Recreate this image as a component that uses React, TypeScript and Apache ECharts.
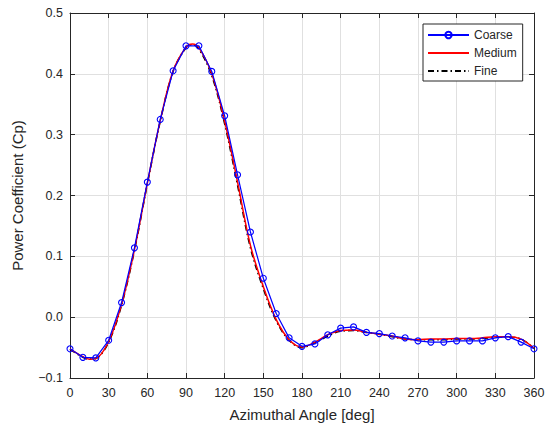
import React, { useEffect, useRef } from "react";
import * as echarts from "echarts";

const coarseAngles = [0, 10, 20, 30, 40, 50, 60, 70, 80, 90, 100, 110, 120, 130, 140, 150, 160, 170, 180, 190, 200, 210, 220, 230, 240, 250, 260, 270, 280, 290, 300, 310, 320, 330, 340, 350, 360];
const coarseCp = [-0.052, -0.066, -0.067, -0.038, 0.024, 0.114, 0.222, 0.325, 0.405, 0.446, 0.446, 0.404, 0.331, 0.234, 0.14, 0.064, 0.006, -0.034, -0.048, -0.044, -0.029, -0.018, -0.016, -0.025, -0.027, -0.031, -0.034, -0.039, -0.041, -0.041, -0.039, -0.039, -0.039, -0.034, -0.032, -0.041, -0.052];

const mediumAngles = [0, 10, 15, 20, 30, 40, 50, 60, 70, 80, 90, 95, 100, 110, 120, 130, 140, 150, 160, 170, 180, 190, 200, 210, 220, 230, 240, 250, 260, 270, 280, 290, 300, 310, 320, 330, 340, 350, 360];
const mediumCp = [-0.052, -0.065, -0.069, -0.068, -0.040, 0.021, 0.111, 0.220, 0.323, 0.405, 0.444, 0.449, 0.443, 0.400, 0.322, 0.222, 0.118, 0.050, -0.004, -0.037, -0.049, -0.041, -0.029, -0.022, -0.021, -0.025, -0.028, -0.031, -0.036, -0.037, -0.036, -0.036, -0.035, -0.035, -0.034, -0.032, -0.032, -0.036, -0.051];

const fineAngles = [0, 10, 15, 20, 30, 40, 50, 60, 70, 80, 90, 95, 100, 110, 120, 130, 140, 150, 160, 170, 180, 190, 200, 210, 220, 230, 240, 250, 260, 270, 280, 290, 300, 310, 320, 330, 340, 350, 360];
const fineCp = [-0.053, -0.066, -0.069, -0.068, -0.041, 0.020, 0.110, 0.219, 0.322, 0.404, 0.443, 0.448, 0.441, 0.397, 0.318, 0.217, 0.114, 0.047, -0.006, -0.038, -0.050, -0.042, -0.031, -0.023, -0.022, -0.025, -0.028, -0.032, -0.036, -0.037, -0.037, -0.037, -0.036, -0.036, -0.035, -0.033, -0.033, -0.036, -0.051];

const seriesNames = ["Coarse", "Medium", "Fine"];
const xTicks = { min: 0, max: 360, interval: 30 };
const yTicks = { min: -0.1, max: 0.5, interval: 0.1 };

const FONT = "'Liberation Sans', Arial, sans-serif";
const AX = "#262626";

export default function App() {
  const ref = useRef<HTMLDivElement>(null);
  useEffect(() => {
    if (!ref.current) return;
    const chart = echarts.init(ref.current, null, { renderer: "svg" });
    const pairs = (xs: number[], ys: number[]) => xs.map((x, i) => [x, ys[i]]);
    const secondaryAxis = {
      type: "value" as const,
      axisLine: { show: true, onZero: false, lineStyle: { color: AX, width: 1 } },
      axisTick: { show: true, inside: true, length: 5, lineStyle: { color: AX } },
      axisLabel: { show: false },
      splitLine: { show: false },
    };
    chart.setOption({
      animation: false,
      backgroundColor: "#ffffff",
      textStyle: { fontFamily: FONT },
      grid: { left: 70, right: 16, top: 13, bottom: 54, containLabel: false },
      legend: {
        data: [
          { name: seriesNames[0] },
          { name: seriesNames[1], itemStyle: { opacity: 0 } },
          { name: seriesNames[2], itemStyle: { opacity: 0 } },
        ],
        orient: "vertical",
        left: 423,
        top: 24,
        padding: [4, 6, 3, 4],
        itemGap: 4,
        itemWidth: 41,
        itemHeight: 8,
        borderColor: AX,
        borderWidth: 1,
        borderRadius: 0,
        backgroundColor: "#ffffff",
        textStyle: { fontFamily: FONT, fontSize: 12, color: AX, lineHeight: 14 },
      },
      xAxis: [
        {
          type: "value",
          ...xTicks,
          name: "Azimuthal Angle [deg]",
          nameLocation: "middle",
          nameGap: 29,
          nameTextStyle: { fontFamily: FONT, fontSize: 15, color: AX },
          axisLine: { show: true, onZero: false, lineStyle: { color: AX, width: 1 } },
          axisTick: { show: true, inside: true, length: 5, lineStyle: { color: AX } },
          axisLabel: { fontFamily: FONT, fontSize: 12.5, color: AX, margin: 8 },
          splitLine: { show: true, lineStyle: { color: "#e0e0e0", width: 1 } },
        },
        { ...secondaryAxis, ...xTicks, position: "top" },
      ],
      yAxis: [
        {
          type: "value",
          ...yTicks,
          name: "Power Coefficient (Cp)",
          nameLocation: "middle",
          nameGap: 45,
          nameTextStyle: { fontFamily: FONT, fontSize: 15, color: AX },
          axisLine: { show: true, onZero: false, lineStyle: { color: AX, width: 1 } },
          axisTick: { show: true, inside: true, length: 5, lineStyle: { color: AX } },
          axisLabel: {
            fontFamily: FONT,
            fontSize: 12.5,
            color: AX,
            margin: 7,
            formatter: (v: number) => v.toFixed(1).replace("-", "\u2212"),
          },
          splitLine: { show: true, lineStyle: { color: "#e0e0e0", width: 1 } },
        },
        { ...secondaryAxis, ...yTicks, position: "right" },
      ],
      series: [
        {
          name: "Coarse",
          type: "line",
          data: pairs(coarseAngles, coarseCp),
          symbol: "circle",
          symbolSize: 6,
          showSymbol: true,
          lineStyle: { color: "#0000ff", width: 1.2 },
          itemStyle: { color: "rgba(0,0,0,0)", borderColor: "#0000ff", borderWidth: 1.1 },
          z: 5,
        },
        {
          name: "Medium",
          type: "line",
          data: pairs(mediumAngles, mediumCp),
          smooth: 0.35,
          showSymbol: false,
          symbol: "none",
          lineStyle: { color: "#ff0000", width: 1.5 },
          itemStyle: { color: "#ff0000" },
          z: 4,
        },
        {
          name: "Fine",
          type: "line",
          data: pairs(fineAngles, fineCp),
          smooth: 0.35,
          showSymbol: false,
          symbol: "none",
          lineStyle: { color: "#000000", width: 1.6, type: [6, 3, 1.5, 3] },
          itemStyle: { color: "#000000" },
          z: 3,
        },
      ],
    });
    return () => chart.dispose();
  }, []);
  return (
    <div
      ref={ref}
      style={{ position: "fixed", left: 0, top: 0, width: 550, height: 432, background: "#fff" }}
    />
  );
}
